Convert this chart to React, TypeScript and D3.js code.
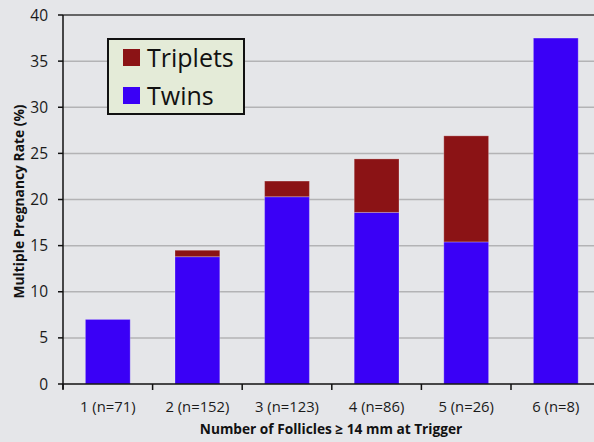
import * as d3 from 'd3'

const categories = ['1 (n=71)', '2 (n=152)', '3 (n=123)', '4 (n=86)', '5 (n=26)', '6 (n=8)']
const twins = [7.0, 13.8, 20.3, 18.6, 15.4, 37.5]
const triplets = [0, 0.7, 1.7, 5.8, 11.5, 0]
const yTicks = [0, 5, 10, 15, 20, 25, 30, 35, 40]
const seriesKeys = ['twins', 'triplets']
const legendItems = [
  { key: 'triplets', label: 'Triplets' },
  { key: 'twins', label: 'Twins' },
]

const WIDTH = 594
const HEIGHT = 442
const LEFT = 63
const TOP = 15
const BOTTOM = 384
const RIGHT = 600.6
const FONT = '"Open Sans", "Liberation Sans", sans-serif'

const COLORS: Record<string, string> = { twins: '#3a00f6', triplets: '#8b1315' }

export default function App() {
  const rows = categories.map((c, i) => ({ cat: c, twins: twins[i], triplets: triplets[i] }))
  const stack = d3.stack<any>().keys(seriesKeys)(rows)

  const x = d3.scaleBand().domain(categories).range([LEFT, RIGHT]).paddingInner(0.5).paddingOuter(0.25)
  const y = d3.scaleLinear().domain([0, 40]).range([BOTTOM, TOP])
  const step = x.step()

  return (
    <svg
      width={WIDTH}
      height={HEIGHT}
      style={{ position: 'absolute', left: 0, top: 0, background: '#e5e6e9' }}
      fontFamily={FONT}
    >
      <rect width={WIDTH} height={HEIGHT} fill="#e5e6e9" />
      {/* grid */}
      {yTicks.slice(1, -1).map((t) => (
        <line key={t} x1={LEFT} x2={WIDTH} y1={y(t)} y2={y(t)} stroke="#b3b3b5" strokeWidth={1.5} />
      ))}
      <line x1={LEFT} x2={WIDTH} y1={y(40)} y2={y(40)} stroke="#3a3a3a" strokeWidth={1.5} />

      {/* bars */}
      {stack.map((s) =>
        s.map((d, i) =>
          d[1] - d[0] > 0 ? (
            <rect
              key={s.key + i}
              x={x(categories[i])!}
              width={x.bandwidth()}
              y={y(d[1])}
              height={y(d[0]) - y(d[1])}
              fill={COLORS[s.key]}
              stroke="#ffffff"
              strokeOpacity={0.25}
              strokeWidth={1}
            />
          ) : null,
        ),
      )}

      {/* y axis */}
      <line x1={LEFT} x2={LEFT} y1={TOP} y2={BOTTOM + 5} stroke="#111" strokeWidth={1.5} />
      {yTicks.map((t) => (
        <g key={t}>
          <line x1={LEFT - 5} x2={LEFT} y1={y(t)} y2={y(t)} stroke="#111" strokeWidth={1.5} />
          <text x={LEFT - 15} y={y(t)} dy="0.36em" textAnchor="end" fontSize={15.5} fill="#1a1a1a">
            {t}
          </text>
        </g>
      ))}

      {/* x axis */}
      <line x1={LEFT} x2={WIDTH} y1={BOTTOM} y2={BOTTOM} stroke="#111" strokeWidth={1.5} />
      {categories.map((c, i) => (
        <g key={c}>
          <line
            x1={LEFT + step * i}
            x2={LEFT + step * i}
            y1={BOTTOM}
            y2={BOTTOM + 6}
            stroke="#111"
            strokeWidth={1.5}
          />
          <text x={x(c)! + x.bandwidth() / 2} y={412} textAnchor="middle" fontSize={14.8} fill="#1a1a1a">
            {c}
          </text>
        </g>
      ))}

      {/* axis titles */}
      <text x={331} y={434} textAnchor="middle" fontSize={13.7} fontWeight="bold" fill="#111">
        Number of Follicles ≥ 14 mm at Trigger
      </text>
      <text
        transform={`translate(24,${(TOP + BOTTOM) / 2 + 2}) rotate(-90)`}
        textAnchor="middle"
        fontSize={13.8}
        fontWeight="bold"
        fill="#111"
      >
        Multiple Pregnancy Rate (%)
      </text>

      {/* legend */}
      <rect x={108} y={39} width={136} height={75} fill="#e4ebd8" stroke="#111" strokeWidth={2} />
      {legendItems.map((item, i) => (
        <g key={item.key} transform={`translate(123,${49 + i * 38})`}>
          <rect width={17} height={17} fill={COLORS[item.key]} />
          <text x={24} y={8.5} dy="0.36em" fontSize={25} fill="#111">
            {item.label}
          </text>
        </g>
      ))}
    </svg>
  )
}
